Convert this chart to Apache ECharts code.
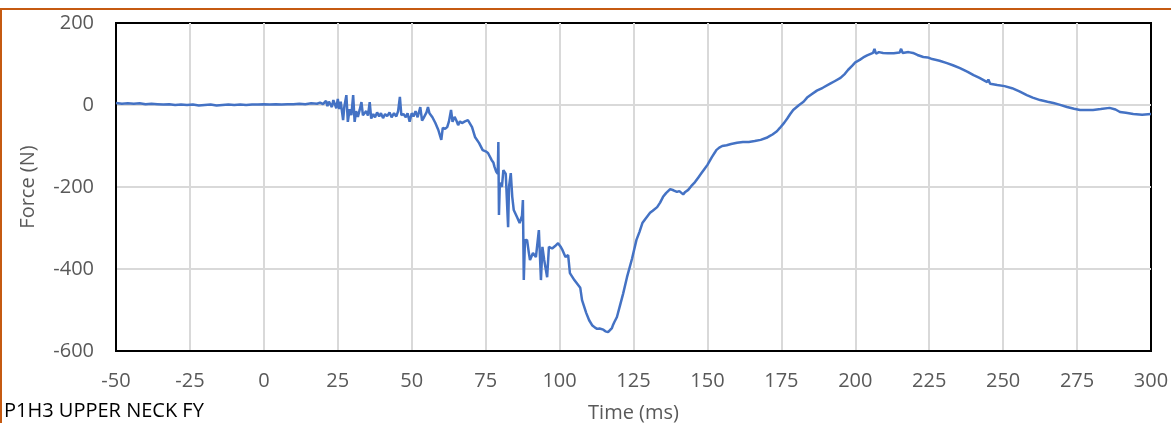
<!DOCTYPE html>
<html>
<head>
  <meta charset="utf-8">
  <title>P1H3 Upper Neck FY</title>
  <script src="https://cdn.jsdelivr.net/npm/echarts@6/dist/echarts.min.js"></script>
  <style>
    html, body { margin: 0; padding: 0; background: #fff; }
    #chart { width: 1171px; height: 423px; position: absolute; left: 0; top: 0; }
    .frame {
      position: absolute; left: 0; top: 8px; width: 1180px; height: 430px;
      border-top: 2px solid #C55A11; border-left: 2px solid #C55A11;
      pointer-events: none;
    }
  </style>
</head>
<body>
  <div id="chart"></div>
  <div class="frame"></div>

  <script>
    // 时间 (ms)
    let timeMs = [
      -50, -48, -46, -44, -42, -40, -38, -36, -34, -32,
      -30, -28, -26, -24, -22, -20, -18, -16, -14, -12,
      -10, -8, -6, -4, -2, 0, 2, 4, 6, 8,
      10, 12, 14, 16, 18, 19, 20, 21, 21.5, 22,
      23, 23.5, 24, 24.5, 25, 25.5, 26, 26.8, 27.2, 27.9,
      28.4, 29, 29.6, 30.2, 30.7, 31.2, 31.8, 32.4, 33, 33.5,
      34, 34.6, 35.2, 35.8, 36.3, 37, 37.6, 38.3, 39, 39.6,
      40.3, 41, 41.7, 42.5, 43.2, 44, 44.8, 45.4, 46, 46.5,
      47.2, 48, 48.6, 49.3, 50, 50.6, 51.3, 52, 52.9, 53.5,
      54, 55, 55.5, 56, 57, 58, 59, 60, 60.5, 61.3,
      62, 62.6, 63.3, 63.8, 64.5, 65.1, 65.7, 66.3, 67, 68,
      69, 70.4, 71.4, 72.8, 74, 75, 75.8, 77, 77.6, 78,
      78.6, 79.1, 79.3, 79.5, 79.8, 80.5, 81, 81.8, 82.3, 82.6,
      82.9, 83.5, 84, 84.5, 85.6, 86.5, 87.3, 87.6, 87.9, 88.3,
      89, 89.6, 90, 91, 92, 93, 93.7, 94.2, 94.8, 95.8,
      96.4, 97.5, 98.5, 99.5, 100.3, 101, 102, 102.9, 103.5, 105,
      107, 107.6, 109, 110, 111, 112, 112.7, 113.5, 114, 114.8,
      115.5, 116.4, 117, 117.7, 118, 118.5, 119.4, 120.4, 121.5, 122.8,
      124.5, 126, 127, 128, 129, 130.6, 131.5, 133, 134, 135,
      136, 137.4, 138.5, 139.7, 140.5, 141.8, 142.5, 143.5, 144.5, 145.8,
      147, 148, 149, 150, 151.5, 152.5, 153, 154, 155, 156.5,
      158, 160, 162, 164, 166, 168, 170, 171, 172, 173.5,
      174.5, 176, 177, 178, 179, 180, 181, 182.5, 183.7, 185,
      187, 189, 191.5, 193, 195, 196.5, 197.6, 199, 200, 201.5,
      202.7, 204, 206, 206.5, 207, 208, 209.4, 211, 213, 215,
      215.5, 216, 218, 219.5, 221, 223, 224.5, 226, 228.5, 231,
      233, 235.4, 238, 240, 242, 244.6, 245, 245.6, 248, 250.5,
      253, 255.5, 258, 260, 262.5, 265, 267, 269, 271.6, 274,
      276, 278, 280.4, 283, 286, 288, 289.5, 291.5, 294, 297,
      300
    ];
    // 力 (N)
    let forceN = [
      5, 3, 4, 3, 4, 2, 3, 2, 1, 2,
      0, 1, 0, 1, -1, 0, 1, -1, 0, 1,
      0, 1, 0, 1, 1, 2, 1, 2, 1, 2,
      2, 3, 2, 4, 3, 6, 2, 10, -3, 8,
      -5, 12, 2, -8, 15, -10, 8, -37, -5, 24,
      -41, -10, -25, 24, -41, -15, -29, -12, 7, -25,
      -29, -15, -26, 7, -33, -22, -30, -18, -28, -20,
      -32, -22, -27, -18, -30, -20, -28, -15, 20, -25,
      -22, -30, -20, -41, -20, -28, -15, -30, -5, -38,
      -32, -18, -5, -20, -30, -44, -61, -85, -56, -58,
      -54, -40, -12, -41, -29, -38, -49, -40, -44, -40,
      -37, -54, -78, -93, -110, -113, -117, -134, -140, -151,
      -163, -168, -90, -268, -190, -200, -159, -168, -166, -298,
      -200, -166, -224, -256, -273, -288, -270, -232, -427, -330,
      -329, -360, -378, -361, -371, -305, -427, -346, -378, -420,
      -346, -350, -344, -337, -345, -354, -371, -366, -410, -427,
      -446, -476, -507, -525, -537, -543, -546, -545, -549, -548,
      -552, -554, -550, -544, -538, -530, -517, -490, -460, -420,
      -375, -329, -310, -288, -278, -263, -258, -249, -238, -224,
      -215, -205, -208, -212, -210, -218, -212, -207, -198, -188,
      -176, -166, -156, -146, -127, -116, -110, -104, -100, -98,
      -95, -92, -90, -90, -88, -85, -80, -76, -72, -64,
      -56, -43, -33, -22, -12, -6, 0, 8, 18, 25,
      35, 42, 52, 58, 66, 76, 86, 96, 104, 110,
      116, 121, 127, 137, 125, 129, 127, 126, 126, 128,
      137, 127, 129, 127, 122, 117, 116, 112, 108, 102,
      97, 90, 81, 73, 66, 56, 62, 52, 49, 46,
      41, 33, 24, 18, 12, 8, 5, 1, -5, -9,
      -12, -12, -12, -10, -7, -11, -17, -19, -22, -24,
      -22
    ];

    let seriesData = timeMs.map(function (t, i) { return [t, forceN[i]]; });

    let myChart = echarts.init(document.getElementById('chart'));
    let fontName = 'Open Sans';
    let labelStyle = { color: '#595959', fontSize: 20, fontFamily: fontName };

    let option = {
      animation: false,
      grid: {
        left: 116, right: 20, top: 23, bottom: 72,
        outerBoundsMode: 'none',
        containLabel: false,
        show: true, borderColor: '#000', borderWidth: 2, backgroundColor: 'transparent'
      },
      xAxis: {
        type: 'value',
        min: -50, max: 300, interval: 25,
        name: 'Time (ms)',
        nameLocation: 'middle',
        nameGap: 52,
        nameTextStyle: { color: '#595959', fontSize: 20, fontFamily: fontName },
        axisLine: { show: true, onZero: false, lineStyle: { color: '#000', width: 2 } },
        axisTick: { show: false },
        axisLabel: Object.assign({ margin: 20 }, labelStyle),
        splitLine: { show: true, showMinLine: false, showMaxLine: false, lineStyle: { color: '#D9D9D9', width: 2 } }
      },
      yAxis: {
        type: 'value',
        min: -600, max: 200, interval: 200,
        name: 'Force (N)',
        nameLocation: 'middle',
        nameGap: 78,
        nameRotate: 90,
        nameTextStyle: { color: '#595959', fontSize: 20, fontFamily: fontName },
        axisLine: { show: true, onZero: false, lineStyle: { color: '#000', width: 2 } },
        axisTick: { show: false },
        axisLabel: Object.assign({ margin: 22 }, labelStyle),
        splitLine: { show: true, showMinLine: false, showMaxLine: false, lineStyle: { color: '#D9D9D9', width: 2 } }
      },
      graphic: [
        {
          type: 'text', left: 4, top: 401,
          style: { text: 'P1H3 UPPER NECK FY', fill: '#000', fontSize: 20, fontFamily: fontName }
        }
      ],
      series: [
        {
          type: 'line',
          data: seriesData,
          showSymbol: false,
          lineStyle: { color: '#4472C4', width: 2.5 }
        }
      ]
    };
    myChart.setOption(option);
  </script>
</body>
</html>
